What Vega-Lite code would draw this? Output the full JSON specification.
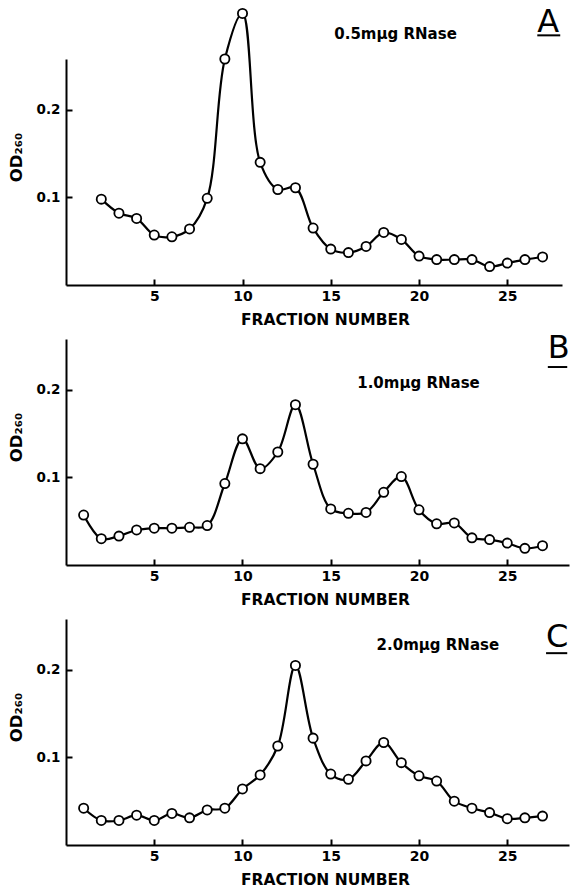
{
  "$schema": "https://vega.github.io/schema/vega-lite/v6.json",
  "background": "white",
  "padding": {"left": 8, "top": 5, "right": 0, "bottom": 0},
  "spacing": 54,
  "bounds": "flush",
  "config": {
    "view": {"stroke": null},
    "axis": {
      "grid": false,
      "domainColor": "black",
      "domainWidth": 2,
      "tickColor": "black",
      "tickWidth": 2,
      "labelFont": "DejaVu Sans",
      "labelFontWeight": "bold",
      "labelColor": "black",
      "titleFont": "DejaVu Sans",
      "titleFontWeight": "bold",
      "titleColor": "black"
    },
    "axisX": {
      "labelFontSize": 14,
      "labelPadding": 4,
      "titleFontSize": 15.5,
      "titleX": 259,
      "titleY": 39,
      "titleBaseline": "alphabetic",
      "titleAlign": "center"
    },
    "axisY": {
      "labelFontSize": 13.5,
      "labelPadding": 6,
      "titleFontSize": 16.5,
      "titleX": -45,
      "titleY": 98,
      "titleAngle": -90,
      "titleBaseline": "alphabetic",
      "titleAlign": "center"
    },
    "text": {"font": "DejaVu Sans", "color": "black"}
  },
  "datasets": {
    "od": [
      {"panel": "A", "fraction": 2, "od": 0.098},
      {"panel": "A", "fraction": 3, "od": 0.082},
      {"panel": "A", "fraction": 4, "od": 0.076},
      {"panel": "A", "fraction": 5, "od": 0.057},
      {"panel": "A", "fraction": 6, "od": 0.055},
      {"panel": "A", "fraction": 7, "od": 0.064},
      {"panel": "A", "fraction": 8, "od": 0.099},
      {"panel": "A", "fraction": 9, "od": 0.258},
      {"panel": "A", "fraction": 10, "od": 0.310},
      {"panel": "A", "fraction": 11, "od": 0.140},
      {"panel": "A", "fraction": 12, "od": 0.109},
      {"panel": "A", "fraction": 13, "od": 0.111},
      {"panel": "A", "fraction": 14, "od": 0.065},
      {"panel": "A", "fraction": 15, "od": 0.041},
      {"panel": "A", "fraction": 16, "od": 0.037},
      {"panel": "A", "fraction": 17, "od": 0.044},
      {"panel": "A", "fraction": 18, "od": 0.060},
      {"panel": "A", "fraction": 19, "od": 0.052},
      {"panel": "A", "fraction": 20, "od": 0.033},
      {"panel": "A", "fraction": 21, "od": 0.029},
      {"panel": "A", "fraction": 22, "od": 0.029},
      {"panel": "A", "fraction": 23, "od": 0.029},
      {"panel": "A", "fraction": 24, "od": 0.021},
      {"panel": "A", "fraction": 25, "od": 0.025},
      {"panel": "A", "fraction": 26, "od": 0.029},
      {"panel": "A", "fraction": 27, "od": 0.032},
      {"panel": "B", "fraction": 1, "od": 0.057},
      {"panel": "B", "fraction": 2, "od": 0.030},
      {"panel": "B", "fraction": 3, "od": 0.033},
      {"panel": "B", "fraction": 4, "od": 0.040},
      {"panel": "B", "fraction": 5, "od": 0.042},
      {"panel": "B", "fraction": 6, "od": 0.042},
      {"panel": "B", "fraction": 7, "od": 0.043},
      {"panel": "B", "fraction": 8, "od": 0.045},
      {"panel": "B", "fraction": 9, "od": 0.093},
      {"panel": "B", "fraction": 10, "od": 0.144},
      {"panel": "B", "fraction": 11, "od": 0.110},
      {"panel": "B", "fraction": 12, "od": 0.129},
      {"panel": "B", "fraction": 13, "od": 0.183},
      {"panel": "B", "fraction": 14, "od": 0.115},
      {"panel": "B", "fraction": 15, "od": 0.064},
      {"panel": "B", "fraction": 16, "od": 0.059},
      {"panel": "B", "fraction": 17, "od": 0.060},
      {"panel": "B", "fraction": 18, "od": 0.083},
      {"panel": "B", "fraction": 19, "od": 0.101},
      {"panel": "B", "fraction": 20, "od": 0.063},
      {"panel": "B", "fraction": 21, "od": 0.047},
      {"panel": "B", "fraction": 22, "od": 0.048},
      {"panel": "B", "fraction": 23, "od": 0.031},
      {"panel": "B", "fraction": 24, "od": 0.029},
      {"panel": "B", "fraction": 25, "od": 0.025},
      {"panel": "B", "fraction": 26, "od": 0.019},
      {"panel": "B", "fraction": 27, "od": 0.022},
      {"panel": "C", "fraction": 1, "od": 0.042},
      {"panel": "C", "fraction": 2, "od": 0.028},
      {"panel": "C", "fraction": 3, "od": 0.028},
      {"panel": "C", "fraction": 4, "od": 0.034},
      {"panel": "C", "fraction": 5, "od": 0.028},
      {"panel": "C", "fraction": 6, "od": 0.036},
      {"panel": "C", "fraction": 7, "od": 0.031},
      {"panel": "C", "fraction": 8, "od": 0.040},
      {"panel": "C", "fraction": 9, "od": 0.042},
      {"panel": "C", "fraction": 10, "od": 0.064},
      {"panel": "C", "fraction": 11, "od": 0.080},
      {"panel": "C", "fraction": 12, "od": 0.113},
      {"panel": "C", "fraction": 13, "od": 0.205},
      {"panel": "C", "fraction": 14, "od": 0.122},
      {"panel": "C", "fraction": 15, "od": 0.081},
      {"panel": "C", "fraction": 16, "od": 0.075},
      {"panel": "C", "fraction": 17, "od": 0.096},
      {"panel": "C", "fraction": 18, "od": 0.117},
      {"panel": "C", "fraction": 19, "od": 0.094},
      {"panel": "C", "fraction": 20, "od": 0.079},
      {"panel": "C", "fraction": 21, "od": 0.073},
      {"panel": "C", "fraction": 22, "od": 0.050},
      {"panel": "C", "fraction": 23, "od": 0.042},
      {"panel": "C", "fraction": 24, "od": 0.037},
      {"panel": "C", "fraction": 25, "od": 0.030},
      {"panel": "C", "fraction": 26, "od": 0.031},
      {"panel": "C", "fraction": 27, "od": 0.033}
    ],
    "notes": [
      {"panel": "A", "kind": "dose", "label": "0.5mμg  RNase", "fraction": 15.2, "od": 0.281},
      {"panel": "A", "kind": "letter", "label": "A", "fraction": 26.7, "od": 0.289, "fraction_end": 28.0, "od_line": 0.285},
      {"panel": "B", "kind": "dose", "label": "1.0mμg  RNase", "fraction": 16.5, "od": 0.202},
      {"panel": "B", "kind": "letter", "label": "B", "fraction": 27.3, "od": 0.236, "fraction_end": 28.4, "od_line": 0.226},
      {"panel": "C", "kind": "dose", "label": "2.0mμg  RNase", "fraction": 17.6, "od": 0.223},
      {"panel": "C", "kind": "letter", "label": "C", "fraction": 27.2, "od": 0.226, "fraction_end": 28.4, "od_line": 0.219}
    ]
  },
  "vconcat": [
    {
      "width": 496,
      "height": 226,
      "resolve": {"axis": {"x": "independent", "y": "independent"}},
      "encoding": {
        "x": {"field": "fraction", "type": "quantitative", "scale": {"domain": [0, 28.1], "nice": false, "zero": false}, "axis": null},
        "y": {"field": "od", "type": "quantitative", "scale": {"domain": [0, 0.258], "nice": false}, "axis": null}
      },
      "layer": [
        {"data": {"name": "od"}, "transform": [{"filter": "datum.panel === 'A'"}], "mark": {"type": "line", "interpolate": "catmull-rom", "color": "black", "strokeWidth": 2.2},
          "encoding": {
            "x": {"field": "fraction", "type": "quantitative", "scale": {"domain": [0, 28.1], "nice": false, "zero": false}, "axis": {"title": "FRACTION NUMBER", "values": [5, 10, 15, 20, 25], "ticks": false}},
            "y": {"field": "od", "type": "quantitative", "scale": {"domain": [0, 0.258], "nice": false}, "axis": {"title": "OD₂₆₀", "values": [0.1, 0.2], "format": ".1f", "ticks": false}}
          }},
        {"data": {"name": "od"}, "transform": [{"filter": "datum.panel === 'A'"}], "mark": {"type": "point", "shape": "circle", "filled": true, "fill": "white", "stroke": "black", "strokeWidth": 1.8, "size": 85, "opacity": 1},
          "encoding": {
            "x": {"field": "fraction", "type": "quantitative", "scale": {"domain": [0, 28.1], "nice": false, "zero": false}, "axis": {"orient": "top", "offset": -226, "values": [5, 10, 15, 20, 25], "labels": false, "domain": false, "title": null, "ticks": true, "tickSize": 6}},
            "y": {"field": "od", "type": "quantitative", "scale": {"domain": [0, 0.258], "nice": false}, "axis": {"orient": "right", "offset": -496, "values": [0.1, 0.2], "labels": false, "domain": false, "title": null, "ticks": true, "tickSize": 6}}
          }},
        {"data": {"name": "notes"}, "transform": [{"filter": "datum.panel === 'A' && datum.kind === 'dose'"}], "mark": {"type": "text", "align": "left", "baseline": "alphabetic", "fontSize": 15, "fontWeight": "bold"}, "encoding": {"text": {"field": "label"}}},
        {"data": {"name": "notes"}, "transform": [{"filter": "datum.panel === 'A' && datum.kind === 'letter'"}], "mark": {"type": "text", "align": "left", "baseline": "alphabetic", "fontSize": 32, "fontWeight": "normal"}, "encoding": {"text": {"field": "label"}}},
        {"data": {"name": "notes"}, "transform": [{"filter": "datum.panel === 'A' && datum.kind === 'letter'"}], "mark": {"type": "rule", "color": "black", "strokeWidth": 2}, "encoding": {"y": {"field": "od_line", "type": "quantitative", "scale": {"domain": [0, 0.258], "nice": false}, "axis": null}, "x2": {"field": "fraction_end"}}}
      ]
    },
    {
      "width": 503,
      "height": 226,
      "resolve": {"axis": {"x": "independent", "y": "independent"}},
      "encoding": {
        "x": {"field": "fraction", "type": "quantitative", "scale": {"domain": [0, 28.5], "nice": false, "zero": false}, "axis": null},
        "y": {"field": "od", "type": "quantitative", "scale": {"domain": [0, 0.258], "nice": false}, "axis": null}
      },
      "layer": [
        {"data": {"name": "od"}, "transform": [{"filter": "datum.panel === 'B'"}], "mark": {"type": "line", "interpolate": "catmull-rom", "color": "black", "strokeWidth": 2.2},
          "encoding": {
            "x": {"field": "fraction", "type": "quantitative", "scale": {"domain": [0, 28.5], "nice": false, "zero": false}, "axis": {"title": "FRACTION NUMBER", "values": [5, 10, 15, 20, 25], "ticks": false}},
            "y": {"field": "od", "type": "quantitative", "scale": {"domain": [0, 0.258], "nice": false}, "axis": {"title": "OD₂₆₀", "values": [0.1, 0.2], "format": ".1f", "ticks": false}}
          }},
        {"data": {"name": "od"}, "transform": [{"filter": "datum.panel === 'B'"}], "mark": {"type": "point", "shape": "circle", "filled": true, "fill": "white", "stroke": "black", "strokeWidth": 1.8, "size": 85, "opacity": 1},
          "encoding": {
            "x": {"field": "fraction", "type": "quantitative", "scale": {"domain": [0, 28.5], "nice": false, "zero": false}, "axis": {"orient": "top", "offset": -226, "values": [5, 10, 15, 20, 25], "labels": false, "domain": false, "title": null, "ticks": true, "tickSize": 6}},
            "y": {"field": "od", "type": "quantitative", "scale": {"domain": [0, 0.258], "nice": false}, "axis": {"orient": "right", "offset": -503, "values": [0.1, 0.2], "labels": false, "domain": false, "title": null, "ticks": true, "tickSize": 6}}
          }},
        {"data": {"name": "notes"}, "transform": [{"filter": "datum.panel === 'B' && datum.kind === 'dose'"}], "mark": {"type": "text", "align": "left", "baseline": "alphabetic", "fontSize": 15, "fontWeight": "bold"}, "encoding": {"text": {"field": "label"}}},
        {"data": {"name": "notes"}, "transform": [{"filter": "datum.panel === 'B' && datum.kind === 'letter'"}], "mark": {"type": "text", "align": "left", "baseline": "alphabetic", "fontSize": 32, "fontWeight": "normal"}, "encoding": {"text": {"field": "label"}}},
        {"data": {"name": "notes"}, "transform": [{"filter": "datum.panel === 'B' && datum.kind === 'letter'"}], "mark": {"type": "rule", "color": "black", "strokeWidth": 2}, "encoding": {"y": {"field": "od_line", "type": "quantitative", "scale": {"domain": [0, 0.258], "nice": false}, "axis": null}, "x2": {"field": "fraction_end"}}}
      ]
    },
    {
      "width": 503,
      "height": 226,
      "resolve": {"axis": {"x": "independent", "y": "independent"}},
      "encoding": {
        "x": {"field": "fraction", "type": "quantitative", "scale": {"domain": [0, 28.5], "nice": false, "zero": false}, "axis": null},
        "y": {"field": "od", "type": "quantitative", "scale": {"domain": [0, 0.258], "nice": false}, "axis": null}
      },
      "layer": [
        {"data": {"name": "od"}, "transform": [{"filter": "datum.panel === 'C'"}], "mark": {"type": "line", "interpolate": "catmull-rom", "color": "black", "strokeWidth": 2.2},
          "encoding": {
            "x": {"field": "fraction", "type": "quantitative", "scale": {"domain": [0, 28.5], "nice": false, "zero": false}, "axis": {"title": "FRACTION NUMBER", "values": [5, 10, 15, 20, 25], "ticks": false}},
            "y": {"field": "od", "type": "quantitative", "scale": {"domain": [0, 0.258], "nice": false}, "axis": {"title": "OD₂₆₀", "values": [0.1, 0.2], "format": ".1f", "ticks": false}}
          }},
        {"data": {"name": "od"}, "transform": [{"filter": "datum.panel === 'C'"}], "mark": {"type": "point", "shape": "circle", "filled": true, "fill": "white", "stroke": "black", "strokeWidth": 1.8, "size": 85, "opacity": 1},
          "encoding": {
            "x": {"field": "fraction", "type": "quantitative", "scale": {"domain": [0, 28.5], "nice": false, "zero": false}, "axis": {"orient": "top", "offset": -226, "values": [5, 10, 15, 20, 25], "labels": false, "domain": false, "title": null, "ticks": true, "tickSize": 6}},
            "y": {"field": "od", "type": "quantitative", "scale": {"domain": [0, 0.258], "nice": false}, "axis": {"orient": "right", "offset": -503, "values": [0.1, 0.2], "labels": false, "domain": false, "title": null, "ticks": true, "tickSize": 6}}
          }},
        {"data": {"name": "notes"}, "transform": [{"filter": "datum.panel === 'C' && datum.kind === 'dose'"}], "mark": {"type": "text", "align": "left", "baseline": "alphabetic", "fontSize": 15, "fontWeight": "bold"}, "encoding": {"text": {"field": "label"}}},
        {"data": {"name": "notes"}, "transform": [{"filter": "datum.panel === 'C' && datum.kind === 'letter'"}], "mark": {"type": "text", "align": "left", "baseline": "alphabetic", "fontSize": 32, "fontWeight": "normal"}, "encoding": {"text": {"field": "label"}}},
        {"data": {"name": "notes"}, "transform": [{"filter": "datum.panel === 'C' && datum.kind === 'letter'"}], "mark": {"type": "rule", "color": "black", "strokeWidth": 2}, "encoding": {"y": {"field": "od_line", "type": "quantitative", "scale": {"domain": [0, 0.258], "nice": false}, "axis": null}, "x2": {"field": "fraction_end"}}}
      ]
    }
  ]
}
